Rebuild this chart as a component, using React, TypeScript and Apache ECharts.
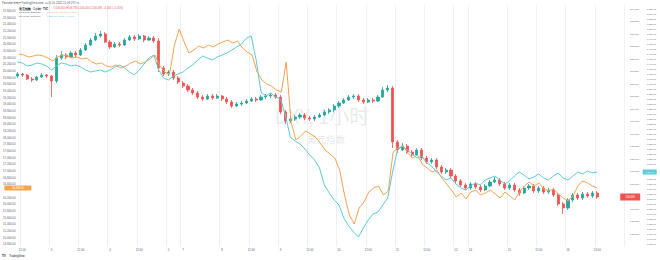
import React, { useEffect, useRef } from 'react';
import * as echarts from 'echarts';

// 2-hour bars, Beijing time (UTC+8); the last session also carries 5 empty future slots
const sessions = [
  { day: 2, hour: 10, bars: 34 },
  { day: 7, hour: 8, bars: 59 },
  { day: 14, hour: 8, bars: 32 },
];

// DXY candles: [open, close, low, high]
const dxy: number[][] = [
  [111.33, 111.41, 111.25, 111.49], [111.41, 111.37, 111.29, 111.45], [111.37, 111.21, 111.17, 111.41], [111.21, 111.17, 111.09, 111.29],
  [111.17, 111.29, 111.13, 111.33], [111.29, 111.37, 111.25, 111.45], [111.37, 111.33, 111.25, 111.41], [111.33, 111.13, 110.49, 111.37],
  [111.13, 112.05, 111.05, 112.17], [112.05, 112.17, 111.97, 112.33], [112.17, 112.09, 112.01, 112.25], [112.09, 112.25, 112.05, 112.33],
  [112.25, 112.17, 112.09, 112.33], [112.17, 112.37, 112.13, 112.45], [112.37, 112.57, 112.33, 112.65], [112.57, 112.77, 112.53, 112.85],
  [112.77, 112.93, 112.73, 113.05], [112.93, 113.01, 112.85, 113.13], [113.01, 112.69, 112.65, 113.09], [112.69, 112.49, 112.41, 112.77],
  [112.49, 112.61, 112.45, 112.69], [112.61, 112.57, 112.49, 112.69], [112.57, 112.77, 112.53, 112.85], [112.77, 112.89, 112.73, 112.97],
  [112.89, 112.81, 112.73, 112.97], [112.81, 112.93, 112.77, 113.01], [112.93, 112.77, 112.69, 112.97], [112.77, 112.85, 112.73, 112.93],
  [112.85, 112.73, 112.65, 112.93], [112.73, 111.65, 111.49, 112.85], [111.65, 111.41, 111.33, 111.73], [111.41, 111.49, 111.33, 111.57],
  [111.49, 111.25, 111.17, 111.57], [111.25, 111.09, 111.01, 111.33], [111.05, 110.93, 110.85, 111.13], [110.93, 110.77, 110.69, 111.01],
  [110.77, 110.65, 110.57, 110.85], [110.65, 110.49, 110.41, 110.73], [110.49, 110.41, 110.33, 110.57], [110.41, 110.53, 110.37, 110.61],
  [110.53, 110.45, 110.37, 110.61], [110.45, 110.53, 110.41, 110.61], [110.53, 110.41, 110.33, 110.57], [110.41, 110.29, 110.21, 110.49],
  [110.29, 110.13, 110.05, 110.37], [110.13, 110.21, 110.09, 110.29], [110.21, 110.25, 110.13, 110.33], [110.25, 110.33, 110.21, 110.41],
  [110.33, 110.41, 110.29, 110.49], [110.41, 110.37, 110.29, 110.49], [110.37, 110.49, 110.33, 110.57], [110.49, 110.53, 110.41, 110.61],
  [110.53, 110.57, 110.45, 110.65], [110.57, 110.49, 110.41, 110.65], [110.49, 109.89, 109.81, 110.57], [109.89, 109.53, 109.41, 109.97],
  [109.53, 109.61, 109.45, 109.69], [109.61, 109.69, 109.53, 109.77], [109.69, 109.77, 109.61, 109.85], [109.77, 109.65, 109.57, 109.85],
  [109.65, 109.61, 109.53, 109.73], [109.61, 109.69, 109.53, 109.77], [109.69, 109.77, 109.65, 109.85], [109.77, 109.89, 109.73, 109.97],
  [109.89, 109.97, 109.81, 110.05], [109.97, 110.13, 109.89, 110.21], [110.13, 110.25, 110.05, 110.33], [110.25, 110.37, 110.21, 110.45],
  [110.37, 110.49, 110.33, 110.57], [110.49, 110.53, 110.41, 110.61], [110.53, 110.37, 110.29, 110.61], [110.37, 110.29, 110.21, 110.45],
  [110.29, 110.37, 110.25, 110.45], [110.37, 110.33, 110.25, 110.45], [110.33, 110.49, 110.29, 110.57], [110.49, 110.77, 110.45, 110.89],
  [110.77, 110.85, 110.69, 110.97], [110.85, 108.69, 108.45, 110.93], [108.69, 108.37, 108.25, 108.77], [108.37, 108.53, 108.33, 108.65],
  [108.53, 108.29, 108.21, 108.61], [108.29, 108.17, 108.09, 108.37], [108.17, 108.37, 108.13, 108.45], [108.37, 108.05, 107.97, 108.45],
  [108.05, 107.89, 107.81, 108.13], [107.89, 107.97, 107.81, 108.05], [107.97, 107.69, 107.61, 108.05], [107.69, 107.49, 107.41, 107.77],
  [107.49, 107.57, 107.41, 107.65], [107.57, 107.33, 107.25, 107.65], [107.33, 107.13, 107.05, 107.41], [107.13, 106.97, 106.89, 107.21],
  [106.97, 106.85, 106.77, 107.05], [106.85, 107.01, 106.77, 107.09], [107.01, 106.89, 106.81, 107.09], [106.89, 106.77, 106.69, 106.97],
  [106.77, 106.93, 106.73, 107.01], [106.93, 107.09, 106.89, 107.17], [107.09, 107.17, 107.05, 107.29], [107.17, 107.01, 106.93, 107.25],
  [107.01, 106.85, 106.77, 107.09], [106.85, 106.97, 106.77, 107.05], [106.97, 106.77, 106.69, 107.05], [106.77, 106.65, 106.53, 106.85],
  [106.65, 106.85, 106.61, 106.93], [106.85, 106.93, 106.77, 107.01], [106.93, 106.73, 106.65, 107.01], [106.73, 106.85, 106.65, 106.93],
  [106.85, 106.69, 106.61, 106.93], [106.69, 106.77, 106.61, 106.85], [106.77, 106.57, 106.49, 106.85], [106.57, 106.21, 106.13, 106.65],
  [106.21, 106.05, 105.81, 106.29], [106.05, 106.37, 105.97, 106.45], [106.37, 106.57, 106.29, 106.65], [106.57, 106.45, 106.37, 106.65],
  [106.45, 106.61, 106.37, 106.69], [106.61, 106.53, 106.45, 106.69], [106.53, 106.65, 106.45, 106.73], [106.65, 106.49, 106.41, 106.73],
];

// orange compare series (left scale)
const btc: number[] = [
  20500, 20470, 20410, 20440, 20470, 20440, 20380, 20290, 20410, 20470,
  20440, 20380, 20410, 20350, 20380, 20260, 20200, 20230, 20140, 20110,
  20170, 20080, 20140, 20230, 20290, 20200, 20260, 20350, 20470, 20140,
  19960, 19900, 20770, 21250, 20860, 20530, 20620, 20740, 20680, 20770,
  20710, 20800, 20860, 20920, 20830, 20890, 20680, 20560, 20470, 19960,
  19720, 19600, 19540, 19420, 19360, 20260, 18460, 17920, 18040, 18190,
  18100, 18010, 17830, 17620, 17500, 17380, 17020, 16270, 15670, 15400,
  15880, 16060, 16360, 16480, 16540, 16270, 16390, 17560, 17680, 17740,
  17530, 17380, 17470, 17200, 17080, 16960, 17020, 16780, 16600, 16420,
  16210, 16330, 16150, 16360, 16420, 16270, 16330, 16420, 16300, 16180,
  16360, 16240, 16120, 16360, 16540, 16660, 16540, 16630, 16450, 16390,
  16450, 16300, 16180, 16090, 16240, 16540, 16690, 16630, 16540, 16480,
];

// cyan compare series (outer right scale)
const eth: number[] = [
  1444, 1442, 1436, 1438, 1442, 1440, 1436, 1428, 1436, 1442,
  1440, 1436, 1438, 1434, 1428, 1424, 1426, 1428, 1424, 1428,
  1434, 1438, 1432, 1424, 1418, 1428, 1440, 1452, 1458, 1428,
  1412, 1408, 1416, 1420, 1424, 1432, 1438, 1448, 1456, 1452,
  1448, 1454, 1458, 1462, 1468, 1474, 1480, 1492, 1496, 1448,
  1384, 1376, 1382, 1374, 1370, 1338, 1294, 1286, 1280, 1270,
  1258, 1248, 1232, 1198, 1182, 1168, 1158, 1132, 1116, 1104,
  1094, 1112, 1128, 1140, 1144, 1158, 1172, 1224, 1268, 1276,
  1268, 1260, 1252, 1256, 1242, 1236, 1224, 1216, 1208, 1212,
  1200, 1192, 1188, 1196, 1202, 1198, 1208, 1212, 1216, 1208,
  1200, 1206, 1216, 1224, 1218, 1210, 1214, 1220, 1212, 1208,
  1216, 1222, 1212, 1208, 1216, 1224, 1220, 1226, 1222, 1224,
];

const UP = '#26a69a';
const DOWN = '#ef5350';
const ORANGE = '#f6a24f';
const CYAN = '#5ccbd6';
const FONT = 'Liberation Sans, Arial, sans-serif';
const CJK = 'Noto Sans CJK SC, Liberation Sans, sans-serif';

const categories: string[] = [];
const sessionStarts: number[] = [];
sessions.forEach((s) => {
  sessionStarts.push(categories.length);
  for (let k = 0; k < s.bars; k++) {
    const t = s.hour + 2 * k;
    const d = s.day + Math.floor(t / 24);
    const h = t % 24;
    categories.push(`11-${String(d).padStart(2, '0')} ${String(h).padStart(2, '0')}:00`);
  }
});

const isSessionOpen = (i: number) => i > 0 && sessionStarts.includes(i);
const showTimeLabel = (i: number, v: string) => {
  const h = v.slice(6, 8);
  if (isSessionOpen(i) || h === '00') return true;
  if (h === '12') return !sessionStarts.some((s) => s > 0 && i - s >= 0 && i - s < 3);
  return false;
};
const fmtTimeLabel = (v: string, i: number) => {
  const h = v.slice(6, 8);
  if (h === '00' || isSessionOpen(i)) return String(Number(v.slice(3, 5)));
  return '12:00';
};
const fmt2 = (v: number) => v.toLocaleString('en-US', { minimumFractionDigits: 2, maximumFractionDigits: 2 });

const lastIdx = dxy.length - 1;
const last = dxy[lastIdx];
const prevClose = dxy[lastIdx - 1][1];
const btcLast = btc[btc.length - 1];
const btcPrev = btc[btc.length - 2];
const ethLast = eth[eth.length - 1];
const ethPrev = eth[eth.length - 2];
const sign = (v: number) => (v < 0 ? '−' : '+');

const GL = 15;
const GR = 36;

const priceTag = (coord: any[], text: string, color: string, size: number[], offsetX: number, fontSize: number) => ({
  coord,
  symbol: 'rect',
  symbolSize: size,
  symbolOffset: [offsetX, 0],
  itemStyle: { color },
  label: { show: true, position: 'inside', formatter: () => text, color: '#fff', fontSize, fontFamily: FONT, offset: [0, 0] },
});

const option: any = {
  animation: false,
  backgroundColor: '#ffffff',
  textStyle: { fontFamily: FONT },
  grid: [
    { left: GL, right: GR, top: 5, bottom: 13.25 },
    { left: GL, right: GR, top: 5, bottom: 16 },
    { left: GL, right: GR, top: 5, bottom: 16 },
  ],
  xAxis: [0, 1, 2].map((g) => ({
    type: 'category',
    gridIndex: g,
    data: categories,
    boundaryGap: true,
    show: g === 0,
    axisLine: { show: false },
    axisTick: { show: false },
    axisLabel: {
      interval: showTimeLabel,
      formatter: fmtTimeLabel,
      fontSize: 2.8,
      color: '#5d606b',
      margin: 1,
      fontFamily: FONT,
    },
    splitLine: { show: g === 0, interval: showTimeLabel, lineStyle: { color: '#eef0f4', width: 1 } },
  })),
  yAxis: [
    {
      type: 'value', gridIndex: 0, position: 'right', min: 104.5, max: 114.17, interval: 0.5,
      axisLine: { show: false }, axisTick: { show: false }, splitLine: { show: false },
      axisLabel: {
        formatter: (v: number) => (Math.abs(v - last[1]) < 0.3 ? '' : v.toFixed(3)),
        fontSize: 2.5, color: '#5d606b', margin: 6, align: 'left', showMaxLabel: false, showMinLabel: false, fontFamily: FONT,
      },
    },
    {
      type: 'value', gridIndex: 1, position: 'left', min: 14800, max: 21970, interval: 200,
      axisLine: { show: false }, axisTick: { show: false }, splitLine: { show: false },
      axisLabel: {
        formatter: (v: number) => (Math.abs(v - btcLast) < 100 ? '' : fmt2(v)),
        fontSize: 2.8, color: '#5d606b', margin: 1, align: 'right', showMaxLabel: false, fontFamily: FONT,
      },
    },
    {
      type: 'value', gridIndex: 2, position: 'right', offset: 21, min: 1080, max: 1558, interval: 10,
      axisLine: { show: false }, axisTick: { show: false }, splitLine: { show: false },
      axisLabel: {
        formatter: (v: number) => (Math.abs(v - ethLast) < 7 ? '' : fmt2(v)),
        fontSize: 2.3, color: '#5d606b', margin: 2, align: 'left', showMaxLabel: false, fontFamily: FONT,
      },
    },
  ],
  series: [
    {
      type: 'candlestick', xAxisIndex: 0, yAxisIndex: 0, data: dxy, barWidth: 2.6, z: 2,
      itemStyle: { color: UP, color0: DOWN, borderColor: UP, borderColor0: DOWN, borderWidth: 0.8 },
      markPoint: {
        silent: true, animation: false, z: 6,
        data: [priceTag([lastIdx, last[1]], last[1].toFixed(3), DOWN, [20, 7], 33, 2.6)],
      },
    },
    {
      type: 'line', xAxisIndex: 1, yAxisIndex: 1, data: btc, showSymbol: false, z: 3,
      lineStyle: { color: ORANGE, width: 1 }, itemStyle: { color: ORANGE },
      markPoint: {
        silent: true, animation: false, z: 6,
        data: [priceTag([0, btcLast], fmt2(btcLast), ORANGE, [27, 5], -1, 2.6)],
      },
    },
    {
      type: 'line', xAxisIndex: 2, yAxisIndex: 2, data: eth, showSymbol: false, z: 3,
      lineStyle: { color: CYAN, width: 1 }, itemStyle: { color: CYAN },
      markPoint: {
        silent: true, animation: false, z: 6,
        data: [priceTag([lastIdx, ethLast], fmt2(ethLast), CYAN, [14, 5], 52.5, 2.3)],
      },
    },
  ],
  graphic: [
    {
      type: 'text', x: 322, y: 115, z: 0, silent: true,
      style: { text: 'DXY, 1小时', fontSize: 20, fill: 'rgba(120,123,134,0.18)', align: 'center', verticalAlign: 'middle', fontFamily: CJK },
    },
    {
      type: 'text', x: 326, y: 139, z: 0, silent: true,
      style: { text: '美元指数', fontSize: 9.5, fill: 'rgba(120,123,134,0.2)', align: 'center', verticalAlign: 'middle', fontFamily: CJK },
    },
    {
      type: 'text', x: 2, y: 3, z: 10, silent: true,
      style: { text: 'Pancake发布于TradingView.com, 11月 16, 2022 12:14 UTC+8', fontSize: 2.8, fill: '#50535e', verticalAlign: 'middle', fontFamily: CJK },
    },
    {
      type: 'text', x: 19, y: 9, z: 10, silent: true,
      style: {
        text: `{a|美元指数 · 1小时 · TVC}  {b|O${last[0].toFixed(3)} H${last[3].toFixed(3)} L${last[2].toFixed(3)} C${last[1].toFixed(3)} ${sign(last[1] - prevClose)}${Math.abs(last[1] - prevClose).toFixed(3)} (${sign(last[1] - prevClose)}${Math.abs(((last[1] - prevClose) / prevClose) * 100).toFixed(2)}%)}`,
        verticalAlign: 'middle', fontFamily: CJK,
        rich: { a: { fontSize: 2.6, fill: '#131722', fontWeight: 'bold' }, b: { fontSize: 2.7, fill: DOWN } },
      },
    },
    {
      type: 'text', x: 19, y: 12.8, z: 10, silent: true,
      style: {
        text: `{a|BTCUSD, Bitstamp}  {b|${fmt2(btcLast)} ${sign(btcLast - btcPrev)}${fmt2(Math.abs(btcLast - btcPrev))} (${sign(btcLast - btcPrev)}${Math.abs(((btcLast - btcPrev) / btcPrev) * 100).toFixed(2)}%)}`,
        verticalAlign: 'middle', fontFamily: FONT,
        rich: { a: { fontSize: 2.5, fill: '#6a6d78' }, b: { fontSize: 2.5, fill: ORANGE } },
      },
    },
    {
      type: 'text', x: 19, y: 16.3, z: 10, silent: true,
      style: {
        text: `{a|ETHUSD, Bitstamp}  {b|${fmt2(ethLast)} ${sign(ethLast - ethPrev)}${fmt2(Math.abs(ethLast - ethPrev))} (${sign(ethLast - ethPrev)}${Math.abs(((ethLast - ethPrev) / ethPrev) * 100).toFixed(2)}%)}`,
        verticalAlign: 'middle', fontFamily: FONT,
        rich: { a: { fontSize: 2.5, fill: '#6a6d78' }, b: { fontSize: 2.5, fill: CYAN } },
      },
    },
    {
      type: 'text', x: 2, y: 256, z: 10, silent: true,
      style: { text: '{t|TV} {n|TradingView}', verticalAlign: 'middle', fontFamily: FONT, rich: { t: { fontSize: 3, fontWeight: 'bold', fill: '#131722' }, n: { fontSize: 2.8, fill: '#131722' } } },
    },
  ],
};

export default function App() {
  const ref = useRef<HTMLDivElement>(null);
  useEffect(() => {
    if (!ref.current) return;
    const chart = echarts.init(ref.current, null, { renderer: 'svg' });
    chart.setOption(option);
    return () => chart.dispose();
  }, []);
  return <div ref={ref} style={{ position: 'absolute', left: 0, top: 0, width: 660, height: 260 }} />;
}
